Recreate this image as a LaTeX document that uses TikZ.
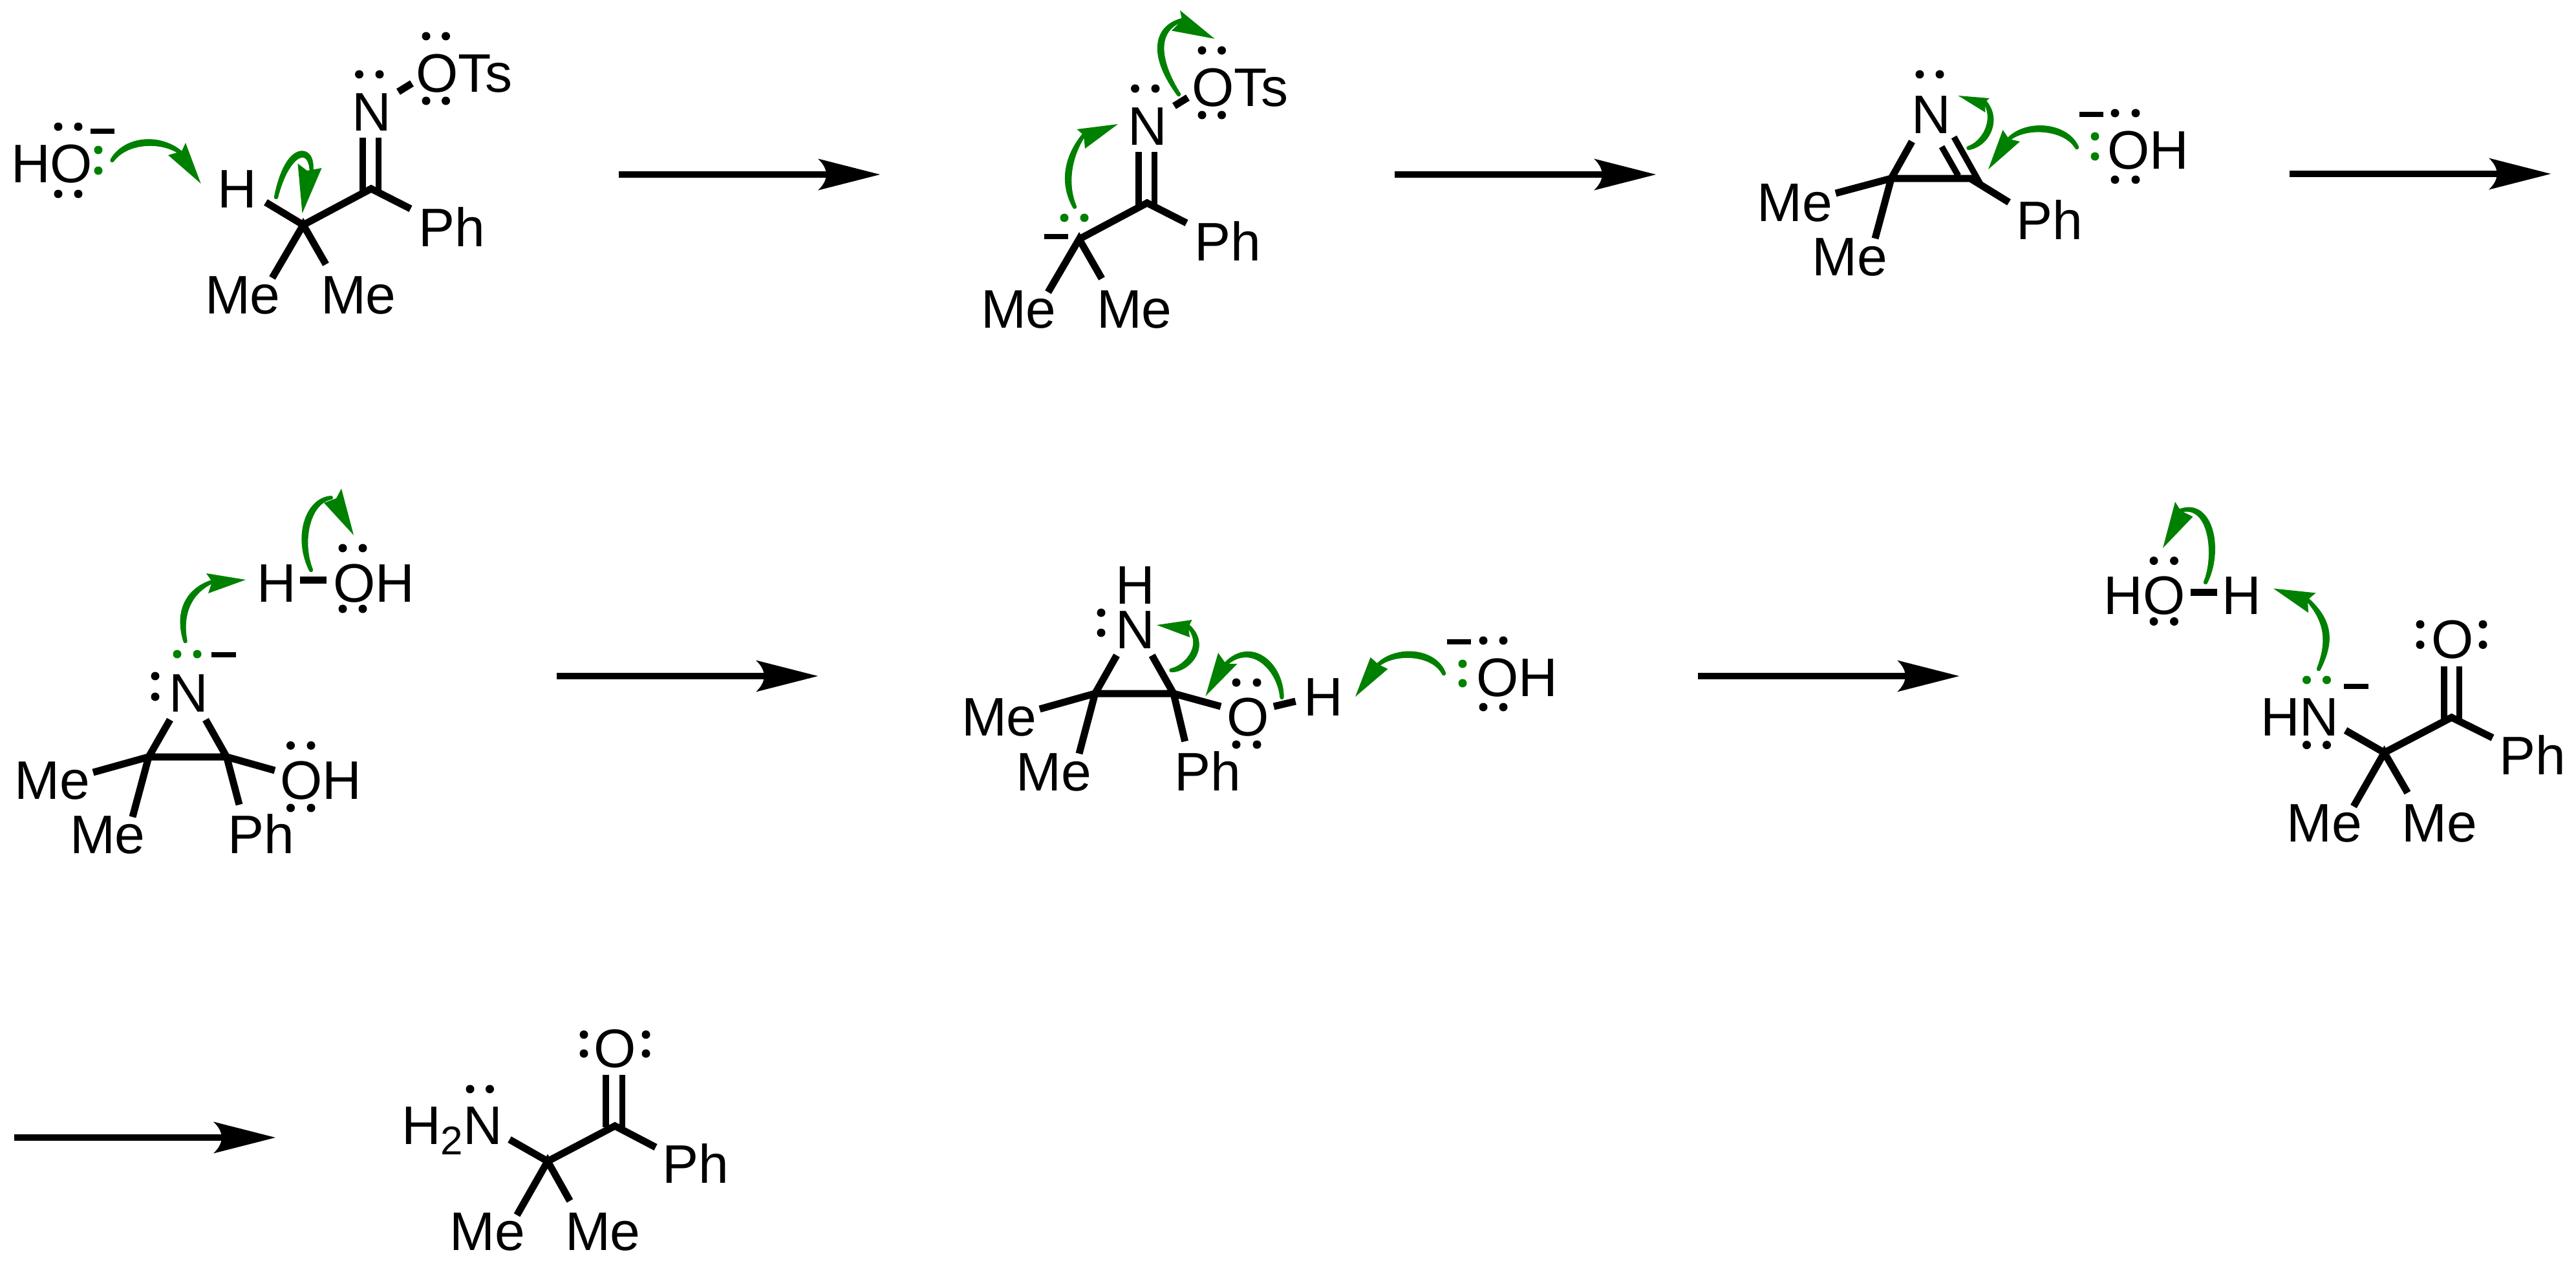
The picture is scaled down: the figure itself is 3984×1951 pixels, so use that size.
\documentclass[tikz,border=0pt]{standalone}
\usepackage{fontspec}
\setmainfont{Liberation Sans}
\definecolor{mech}{RGB}{0,128,0}
\tikzset{
  tx/.style={anchor=base west,inner sep=0pt,outer sep=0pt,font=\fontsize{84}{90}\selectfont},
  bond/.style={line width=11pt,line cap=butt,line join=miter,black},
  dbl/.style={line width=9.5pt,line cap=butt,black},
  chg/.style={line width=8pt,line cap=butt,black},
  rxn/.style={line width=9.5pt,line cap=butt,black},
  curly/.style={line cap=round,mech},
}
\newcommand{\dt}[2]{\fill[black] (#1,#2) circle (6.5);}
\newcommand{\gd}[2]{\fill[mech] (#1,#2) circle (6.5);}
\newcommand{\mns}[3]{\draw[chg] (#1,#3) -- (#2,#3);}
% curved arrow: start, two controls, end of the crescent shaft; tip, corner, notch, corner of the head
\newcommand{\crv}[8]{%
  \coordinate (kS) at #1; \coordinate (kA) at #2; \coordinate (kB) at #3; \coordinate (kE) at #4;
  \foreach \i in {1,...,32}{%
    \pgfmathsetmacro\kta{(\i-1)/32}%
    \pgfmathsetmacro\ktb{\i/32}%
    \pgfmathsetmacro\kw{6+4.5*sin(180*\ktb)}%
    \pgfcoordinate{kP}{\pgfpointcurveattime{\kta}{\pgfpointanchor{kS}{center}}{\pgfpointanchor{kA}{center}}{\pgfpointanchor{kB}{center}}{\pgfpointanchor{kE}{center}}}%
    \pgfcoordinate{kQ}{\pgfpointcurveattime{\ktb}{\pgfpointanchor{kS}{center}}{\pgfpointanchor{kA}{center}}{\pgfpointanchor{kB}{center}}{\pgfpointanchor{kE}{center}}}%
    \draw[curly,line width=\kw pt] (kP) -- (kQ);
  }%
  \fill[mech] #5 -- #6 -- #7 -- #8 -- cycle;}
\newcommand{\rx}[4]{\coordinate (#1s) at (#2,#4); \coordinate (#1e) at (#3,#4);
  \draw[rxn] (#1s) -- ([xshift=-80pt]#1e);
  \fill[black] (#1e) -- ++(-96,-24.5) .. controls +(17,16) and +(17,-16) .. ++(0,49) -- cycle;}
\begin{document}
\begin{tikzpicture}[x=1pt,y=-1pt]
\fill[white] (0,0) rectangle (3984,1951);
\useasboundingbox (0,0) rectangle (3984,1951);

% reaction arrows
\rx{ra}{957}{1361}{270}
\rx{rb}{2157}{2561}{270}
\rx{rc}{3541}{3945}{269}
\rx{rd}{861}{1265}{1046}
\rx{re}{2626}{3030}{1046}
\rx{rf}{22}{426}{1760}

% ---------- molecule 1
\node[tx] (aHO) at (17,282) {HO};
\dt{90}{196}\dt{121}{196}\dt{90}{300}\dt{121}{300}
\mns{140}{177}{203}
\gd{152}{232}\gd{152}{264}
\crv{(173.5,248)}{(195,215)}{(250,212)}{(281,237.5)}{(310.6,284)}{(287,221)}{(281,234)}{(260,240)}
\node[tx] (aH) at (336.5,321.5) {H};
\node[tx] (aN) at (544,202) {N};
\node[tx] (aOTs) at (643,142) {OTs};
\node[tx] (aPh) at (647.5,381) {Ph};
\node[tx] (aMe1) at (317,485) {Me};
\node[tx] (aMe2) at (496,485) {Me};
\coordinate (aC1) at (469,348);
\coordinate (aC2) at (574,292);
\draw[bond] (411,313) -- (aC1) -- (aC2) -- (635,323);
\draw[bond] (421,430) -- (aC1) -- (504,409);
\draw[dbl] (561,295) -- (561,212.5);
\draw[dbl] (585.5,295) -- (585.5,212.5);
\dt{555.5}{115}\dt{587}{115}
\draw[bond] (616,142) -- (637,129);
\dt{659}{56}\dt{689.5}{56}\dt{659}{156}\dt{689.5}{156}
\crv{(427,305)}{(445,225)}{(483,225)}{(481.5,264)}{(467.5,330)}{(460.5,253)}{(475,264)}{(497.5,260)}

% ---------- molecule 2
\node[tx] (bN) at (1744,224) {N};
\node[tx] (bOTs) at (1843,164) {OTs};
\node[tx] (bPh) at (1847.5,403) {Ph};
\node[tx] (bMe1) at (1517,507) {Me};
\node[tx] (bMe2) at (1696,507) {Me};
\coordinate (bC1) at (1669,370);
\coordinate (bC2) at (1774,314);
\draw[bond] (bC1) -- (bC2) -- (1835,345);
\draw[bond] (1621,452) -- (bC1) -- (1704,431);
\draw[dbl] (1761,317) -- (1761,234.5);
\draw[dbl] (1785.5,317) -- (1785.5,234.5);
\dt{1755.5}{137}\dt{1787}{137}
\draw[bond] (1816,164) -- (1837,151);
\dt{1859}{78}\dt{1889.5}{78}\dt{1859}{178}\dt{1889.5}{178}
\mns{1614.5}{1652}{366}
\gd{1646}{337}\gd{1677}{337}
\crv{(1662,320)}{(1645,285)}{(1650,245)}{(1676,209)}{(1729,192)}{(1665.5,200)}{(1676,209)}{(1678,230)}
\crv{(1823,146)}{(1785,90)}{(1785,45)}{(1828,31)}{(1878.5,60)}{(1825,16)}{(1828,31)}{(1812,47.5)}

% ---------- molecule 3
\node[tx] (cN) at (2956,206) {N};
\node[tx] (cPh) at (3118.5,370) {Ph};
\node[tx] (cMe1) at (2717,342) {Me};
\node[tx] (cMe2) at (2802,426) {Me};
\node[tx] (cOH) at (3259,261) {OH};
\coordinate (cC1) at (2925,276);
\coordinate (cC2) at (3047,276);
\dt{2969}{115}\dt{3000}{115}
\draw[bond] (2957,219) -- (cC1) -- (cC2) -- (3107,313);
\draw[bond] (2839,299) -- (cC1) -- (2900,369);
\draw[dbl] (3022,212) -- (3063,285);
\draw[dbl] (3003,227) -- (3028.6,272);
\dt{3271}{175}\dt{3303}{175}\dt{3271}{278}\dt{3303}{278}
\mns{3215.5}{3252.5}{177}
\gd{3240}{211}\gd{3240}{242}
\crv{(3044.5,229)}{(3072,222)}{(3090,185)}{(3070,158)}{(3028.5,148)}{(3077,152)}{(3070,158)}{(3070.5,174)}
\crv{(3212,228)}{(3195,195)}{(3135,190)}{(3107,215)}{(3075,262)}{(3097.5,201)}{(3107,215)}{(3124,219)}

% ---------- molecule 4
\node[tx] (dN) at (261.5,1101) {N};
\node[tx] (dMe1) at (23,1236) {Me};
\node[tx] (dMe2) at (108,1320) {Me};
\node[tx] (dPh) at (352,1320) {Ph};
\node[tx] (dOH) at (433.5,1236) {OH};
\node[tx] (dH) at (397.5,931) {H};
\node[tx] (dOH2) at (515,931) {OH};
\coordinate (dC1) at (230,1171);
\coordinate (dC2) at (350.5,1171);
\draw[bond] (263,1113.5) -- (dC1) -- (dC2) -- (318,1113.5);
\draw[bond] (144,1195) -- (dC1) -- (205,1264);
\draw[bond] (425,1192) -- (dC2) -- (370,1245);
\dt{240}{1046}\dt{240}{1078}
\gd{274}{1012}\gd{305}{1012}
\mns{327}{365}{1013}
\dt{449.5}{1153.4}\dt{481}{1153.4}\dt{449.5}{1250}\dt{481}{1250}
\dt{530}{848}\dt{561}{848}\dt{530}{942}\dt{561}{942}
\draw[bond] (464,897) -- (505,897);
\crv{(286.6,992)}{(276,950)}{(290,915)}{(328,900)}{(380,897)}{(319,887)}{(328,900)}{(322,918)}
\crv{(481,882)}{(460,835)}{(475,775)}{(512,770)}{(547,828)}{(528,756)}{(520,771)}{(501,778)}

% ---------- molecule 5
\node[tx] (eH) at (1725.5,934) {H};
\node[tx] (eN) at (1725.5,1003) {N};
\node[tx] (eMe1) at (1487,1138) {Me};
\node[tx] (eMe2) at (1571.5,1223) {Me};
\node[tx] (ePh) at (1816.5,1223) {Ph};
\node[tx] (eO) at (1897.5,1138) {O};
\node[tx] (eH2) at (2016.5,1107) {H};
\node[tx] (eOH) at (2283,1077) {OH};
\coordinate (eC1) at (1693.6,1073);
\coordinate (eC2) at (1815,1073);
\draw[bond] (1727,1014) -- (eC1) -- (eC2) -- (1781.6,1014);
\draw[bond] (1608,1097) -- (eC1) -- (1669,1166);
\draw[bond] (1888,1093) -- (eC2) -- (1832.6,1147);
\draw[bond] (1970,1093) -- (2003.6,1085);
\dt{1703}{948}\dt{1703}{979}
\dt{1912}{1056}\dt{1944}{1056}\dt{1912}{1152}\dt{1944}{1152}
\dt{2294}{991}\dt{2325}{991}\dt{2294}{1094}\dt{2325}{1094}
\mns{2237.6}{2274.6}{993}
\gd{2262}{1027}\gd{2262}{1057}
\crv{(1811.6,1037)}{(1835,1035)}{(1868,1000)}{(1838,969)}{(1789,967)}{(1843.5,959)}{(1838,970)}{(1840,986)}
\crv{(1982.5,1079)}{(1980,1030)}{(1935,990)}{(1896,1027)}{(1864.5,1077)}{(1884,1010)}{(1896,1027)}{(1913.6,1027)}
\crv{(2233,1042)}{(2218,1008)}{(2160,1004)}{(2132,1028)}{(2096,1078)}{(2119.6,1017)}{(2132,1028)}{(2146.4,1035)}

% ---------- molecule 6
\node[tx] (fHO) at (3253.5,950.7) {HO};
\node[tx] (fH) at (3436,950.7) {H};
\node[tx] (fHN) at (3496,1138.5) {HN};
\node[tx] (fO) at (3760,1018) {O};
\node[tx] (fPh) at (3865,1198.6) {Ph};
\node[tx] (fMe1) at (3536.5,1302) {Me};
\node[tx] (fMe2) at (3714,1302) {Me};
\dt{3331}{867.6}\dt{3362.5}{867.6}\dt{3331}{961.5}\dt{3362.5}{961.5}
\draw[bond] (3387.5,916) -- (3428.5,916);
\crv{(3411,901)}{(3432,855)}{(3420,775)}{(3372,790)}{(3345,848)}{(3364,776.4)}{(3372.5,790)}{(3391.5,799.4)}
\crv{(3586,1035)}{(3606,990)}{(3600,960)}{(3569,928)}{(3516,910.5)}{(3581.5,917.4)}{(3569,928)}{(3570,948)}
\gd{3567.5}{1052}\gd{3598.5}{1052}
\dt{3567.5}{1152.6}\dt{3598.5}{1152.6}
\mns{3625}{3662.5}{1062}
\coordinate (fC1) at (3687.5,1164.5);
\coordinate (fC2) at (3791.5,1110);
\draw[bond] (3627.5,1130) -- (fC1) -- (fC2) -- (3855,1141.5);
\draw[bond] (3640,1247.7) -- (fC1) -- (3723.5,1226.6);
\draw[dbl] (3780,1031) -- (3780,1112);
\draw[dbl] (3803.5,1031) -- (3803.5,1112);
\dt{3743}{966}\dt{3743}{997.5}\dt{3840}{966}\dt{3840}{997.5}

% ---------- molecule 7
\node[tx] (gH) at (621,1770.7) {H\raisebox{-16pt}{\fontsize{62}{70}\selectfont 2}N};
\node[tx] (gO) at (918,1651.7) {O};
\node[tx] (gPh) at (1024,1830.7) {Ph};
\node[tx] (gMe1) at (695.6,1934) {Me};
\node[tx] (gMe2) at (874,1934) {Me};
\coordinate (gC1) at (847,1796.7);
\coordinate (gC2) at (951,1742);
\draw[bond] (788,1763) -- (gC1) -- (gC2) -- (1014,1775);
\draw[bond] (799.5,1880) -- (gC1) -- (881.4,1858);
\draw[dbl] (937,1663) -- (937,1744);
\draw[dbl] (962.5,1663) -- (962.5,1744);
\dt{727}{1685}\dt{757.5}{1685}
\dt{903}{1600.7}\dt{903}{1630}\dt{999}{1600.7}\dt{999}{1630}
\end{tikzpicture}
\end{document}
